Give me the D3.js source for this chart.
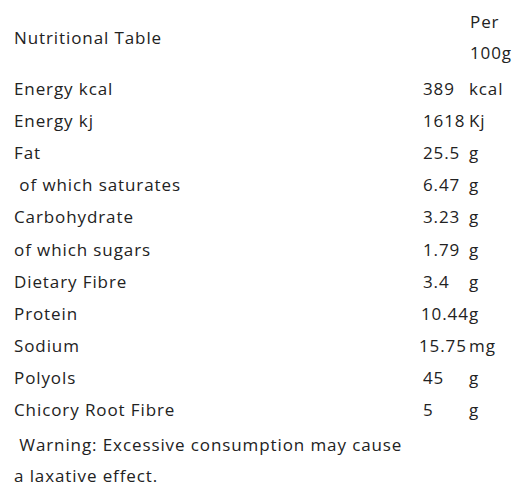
<!DOCTYPE html><html><head><meta charset="utf-8"><script src="https://cdn.jsdelivr.net/npm/d3@7"></script>
<style>body{margin:0;background:#fff}</style></head><body><script>
const labels=["Energy kcal","Energy kj","Fat"," of which saturates","Carbohydrate","of which sugars","Dietary Fibre","Protein","Sodium","Polyols","Chicory Root Fibre"];
const values=["389","1618","25.5","6.47","3.23","1.79","3.4","10.44","15.75","45","5"];
const units=["kcal","Kj","g","g","g","g","g","g","mg","g","g"];
const W=523,H=499;
const svg=d3.select("body").append("svg").attr("width",W).attr("height",H)
 .style("font-family","'Open Sans',sans-serif").style("font-size","17px").style("letter-spacing","0.9px").attr("fill","#222");
const y=d3.scaleBand().domain(d3.range(labels.length)).range([74,428]);
const txt=(x,yy,t)=>svg.append("text").attr("x",x).attr("y",yy).attr("dominant-baseline","middle").style("white-space","pre").text(t);
txt(14,39,"Nutritional Table");txt(470,23,"Per");txt(470,54,"100g");
labels.forEach((l,i)=>{const yy=y(i)+y.bandwidth()/2;txt(14,yy,l);txt(i==8?419:(i==7?421:423),yy,values[i]);txt(469,yy,units[i]);});
txt(14,446," Warning: Excessive consumption may cause");txt(14,477,"a laxative effect.");
</script></body></html>
